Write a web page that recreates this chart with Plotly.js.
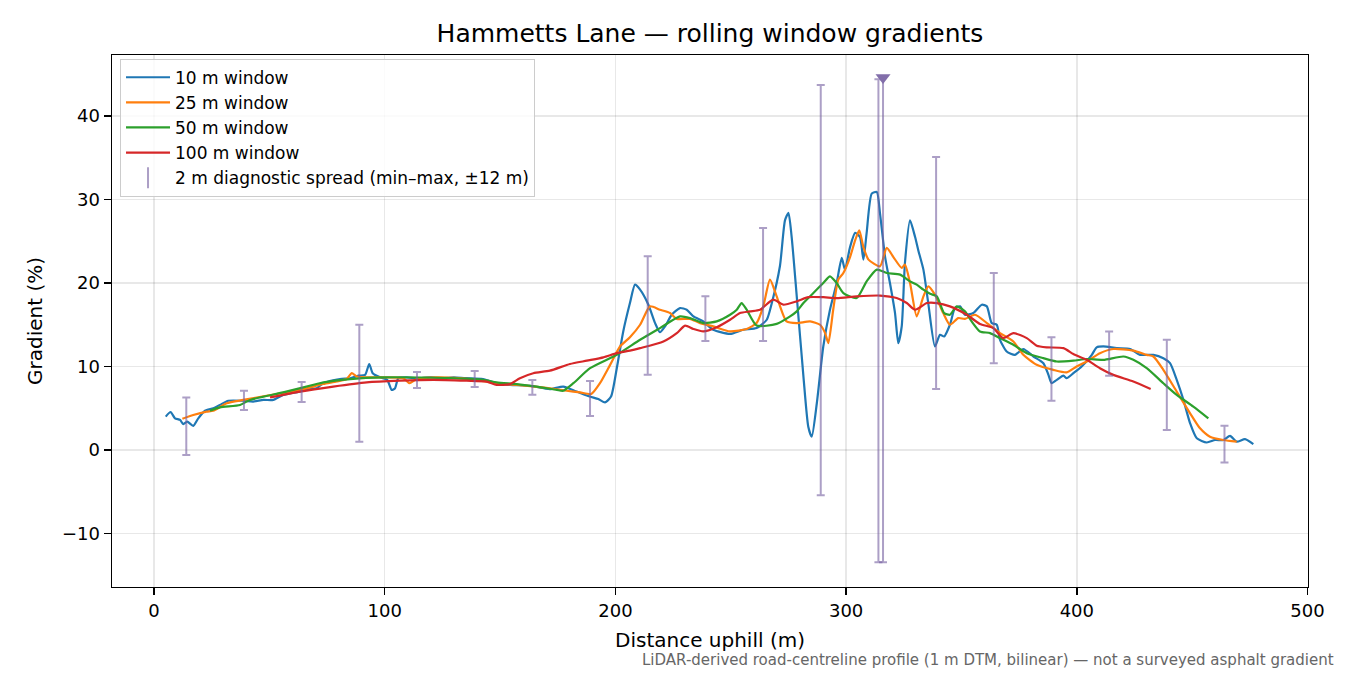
<!DOCTYPE html>
<html>
<head>
<meta charset="utf-8">
<script src="https://cdn.plot.ly/plotly-3.0.1.min.js"></script>
<style>
  body { margin: 0; background: #fff; }
  #chart { width: 1350px; height: 675px; }
</style>
</head>
<body>
<div id="chart"></div>
<script>
// rolling window gradients (distance m, gradient %)
var w10x = [5.1,7.2,9.1,11.3,12.7,14.4,17.0,19.2,22.1,25.7,28.6,32.2,38.7,43.0,47.4,51.7,56,63,67,70.5,73.4,80.6,85,88.6,91.5,93.3,94.8,98,101.1,103,104.5,105.9,109.5,113.9,120,125,130,135,142.6,148.5,154.3,163,171.6,177.4,183.2,189,192.6,195.5,198.1,200.6,203.4,206.3,208.5,210.7,214.3,217.2,219.3,221.5,224.4,228,230.9,233.8,238.1,242.4,249.7,255.4,261.2,265.6,267.8,271.3,273.5,275,276.4,278.6,281.5,283.6,285.1,287.3,290.1,293,295.9,298.1,299.5,301.7,303.9,306,307.5,308.9,311.1,313.3,314.7,316.9,319,321.2,322.6,324.1,325.5,327.7,329.9,331.3,333.5,335.6,338.5,340.7,342.5,345,347.2,349.4,351.5,355.1,358.8,361,363.1,365.3,366.7,369.6,373.2,376.8,381.2,385.5,387.7,389.1,391.3,394.2,395.6,398.5,402.1,406.5,408.6,411.5,417.3,423.1,427.4,433.2,437.5,440.4,443.3,446.2,449.1,452,456.3,459.9,463.5,466.4,469.3,472.9,476.5];
var w10y = [4.0,4.55,3.8,3.6,3.1,3.4,2.9,3.8,4.7,5.0,5.4,5.9,5.9,5.8,6.0,6.0,6.6,7.0,7.3,7.4,8.0,8.5,8.6,8.9,9.0,10.3,9.2,8.7,8.4,7.2,7.4,8.6,8.7,8.6,8.7,8.6,8.7,8.6,8.5,8.0,7.8,7.7,7.3,7.6,7.0,6.4,6.1,5.7,6.4,9.8,14.2,17.6,19.8,19.2,17.4,15.2,14.1,14.8,16.2,17.0,16.8,16.0,15.4,14.4,13.9,14.4,14.6,15.6,17.6,22.0,27.5,28.4,25.5,18.4,8.8,2.8,1.6,5.6,12.4,16.8,20.0,23.0,21.6,24.3,26.0,25.5,22.8,26.0,30.7,30.9,28.3,23.1,20.0,16.4,12.8,14.8,22.4,27.5,25.5,23.9,21.6,17.6,12.4,13.8,13.6,15.0,17.0,17.2,16.2,16.4,17.4,17.2,15.2,15.0,13.2,11.8,11.4,12.1,11.2,10.4,9.0,8.0,8.4,8.9,8.6,9.2,10.0,11.4,12.3,12.4,12.2,12.1,11.4,11.4,11.0,10.4,8.4,6.0,3.2,1.4,0.9,1.2,1.2,1.7,1.0,1.3,0.7];

var w25x = [12.3,17,22.8,25.7,31.5,38.7,48.8,63.3,73.4,79.2,83.5,85.7,87.9,92.2,99.4,108.1,110.7,113.9,122.5,137,148.5,157.2,171.6,178.9,184.7,189.5,193.3,197.7,202,206.3,210.7,215,219.3,223.7,226.6,232.3,236.7,242.4,249.7,256.9,261.2,264.1,267,269.9,274.2,278.6,284.4,288.7,290.9,292.3,294.4,296.6,298.8,301.7,303.9,305.7,307.5,309.7,314.7,317.6,320.5,324.1,325.5,327.7,330.6,333.5,335.6,338.5,342.1,345,348.6,351.5,355.9,361,366.7,372.5,376.8,382.6,389.8,395.6,399.9,404.3,410,415.8,424.5,430.3,433.2,437.5,443.3,449.1,453.4,457.7,463.5,469.3];
var w25y = [3.75,4.2,4.6,4.7,5.6,6.0,6.5,7.2,7.9,8.2,8.5,9.2,8.8,8.7,8.7,8.6,8.0,8.5,8.7,8.5,8.0,7.8,7.4,7.1,6.9,6.7,8.0,10.2,12.4,13.5,15.0,17.2,16.8,16.4,15.7,15.7,15.2,14.8,14.2,14.5,15.2,17.2,20.4,18.4,15.4,15.2,15.4,15.0,14.0,12.8,16.8,20.4,21.2,23.1,25.1,26.3,24.3,22.8,22.0,24.2,23.1,21.8,22.2,20.0,16.0,18.4,19.6,18.6,16.4,15.0,15.8,15.7,16.2,15.2,14.0,13.0,11.4,10.2,9.6,9.3,10.0,10.6,11.6,12.1,11.9,11.4,11.2,9.6,7.0,4.4,2.6,1.6,1.2,1.0];

var w50x = [24.3,28.6,37.3,41.6,56,70.5,73.4,85,99.4,128.3,142.7,148.5,157.2,165.9,174.6,177.4,181.8,189,200.6,210.7,219.3,228,232.3,238.1,243.9,249.7,252.6,254.7,256.9,261.2,269.9,275.7,278.6,281.5,285.8,290.1,293,295.9,298.8,304.6,308.9,313.3,317.6,323.4,327.7,330.6,333.5,336.4,339.3,342.5,345,347.9,351.5,354.4,358,362.4,366.7,372.5,378.3,385.5,391.3,398.5,404.3,411.5,420.2,424.5,430.3,437.5,443.3,450.5,457];
var w50y = [4.7,5.1,5.4,6.0,6.9,7.9,8.1,8.5,8.7,8.6,8.4,8.1,7.9,7.6,7.2,7.1,8.0,9.8,11.4,13.2,14.6,16.0,15.8,15.2,15.4,16.2,16.8,17.6,16.8,14.9,15.1,16.0,16.6,17.6,18.8,20.0,20.8,20.0,18.8,18.2,20.2,21.6,21.2,21.0,20.2,19.8,19.2,18.7,18.4,16.4,16.2,17.2,16.6,15.4,14.2,14.0,13.4,12.6,11.6,11.0,10.6,10.7,10.9,10.8,11.2,10.8,9.8,8.0,6.6,5.2,3.8];

var w100x = [50.3,63.3,77.7,92.2,106.6,121.1,135.5,144.2,148.5,154.3,158.6,164.4,171.6,180.3,187.6,194.8,200.6,206.3,210.7,220.8,226.6,230.2,233.8,238.1,243.9,249.7,254,258.3,262.7,268.4,272.8,278.6,283.6,290.1,295.9,304.6,314.7,321.9,326.3,329.9,335,339.3,345,352.3,358,363.8,368.1,372.5,378.3,382.6,387,394.2,398.5,404.3,410,415.8,424.5,432];
var w100y = [6.3,7.0,7.6,8.1,8.3,8.4,8.3,8.2,7.8,7.9,8.6,9.2,9.5,10.3,10.7,11.1,11.6,11.9,12.2,13.0,14.0,14.9,14.5,14.2,14.7,15.6,16.4,16.6,16.8,18.0,17.4,17.8,18.3,18.3,18.2,18.4,18.5,18.2,17.6,16.8,17.6,17.6,17.2,16.2,15.1,14.6,13.4,14.0,13.4,12.5,12.3,12.2,11.5,10.8,9.8,9.0,8.2,7.3];

// 2 m diagnostic spread, min and max within +-12 m
var spreadX = [14,39,64,89,114,139,164,189,214,239,264,289,314,339,364,389,414,439,464];
var spreadLo = [-0.6,4.8,5.75,1.0,7.43,7.54,6.63,4.07,9.0,13.05,13.05,-5.4,-13.45,7.3,10.4,5.9,8.9,2.4,-1.5];
var spreadHi = [6.3,7.1,8.14,15.0,9.34,9.46,8.38,8.26,23.2,18.4,26.6,43.7,44.4,35.1,21.2,13.5,14.2,13.2,2.9];

// spread that runs off the top of the axis
var offX = [316];
var offLo = [-13.45];
var offHi = [44.6];

var barColor = 'rgba(117,95,160,0.6)';

function plus(hi, lo){
    return hi.map(function(v, i){ return v - lo[i]; });
}

var smooth = {shape: 'spline', smoothing: 0.6, width: 2.2};

var data = [
    {x: w10x, y: w10y, mode: 'lines', name: '10 m window', line: Object.assign({color: '#1f77b4'}, smooth)},
    {x: w25x, y: w25y, mode: 'lines', name: '25 m window', line: Object.assign({color: '#ff7f0e'}, smooth)},
    {x: w50x, y: w50y, mode: 'lines', name: '50 m window', line: Object.assign({color: '#2ca02c'}, smooth)},
    {x: w100x, y: w100y, mode: 'lines', name: '100 m window', line: Object.assign({color: '#d62728'}, smooth)},
    {x: [null], y: [null], mode: 'markers', name: '2 m diagnostic spread (min\u2013max, \u00b112 m)',
        marker: {symbol: 'line-ns-open', size: 15, color: barColor, line: {color: barColor, width: 2}}},
    {x: spreadX, y: spreadLo, mode: 'markers', showlegend: false, hoverinfo: 'skip',
        marker: {size: 0.1, color: 'rgba(0,0,0,0)'},
        error_y: {type: 'data', symmetric: false, array: plus(spreadHi, spreadLo), arrayminus: spreadLo.map(function(){return 0;}),
            color: barColor, thickness: 2, width: 4}},
    {x: offX, y: offLo, mode: 'markers', showlegend: false, hoverinfo: 'skip',
        marker: {size: 0.1, color: 'rgba(0,0,0,0)'},
        error_y: {type: 'data', symmetric: false, array: plus(offHi, offLo), arrayminus: [0],
            color: barColor, thickness: 2, width: 4}},
    {x: offX, y: offHi, mode: 'markers', showlegend: false, hoverinfo: 'skip',
        marker: {symbol: 'triangle-down', size: 13, color: '#826eaa'}}
];

var axisStyle = {
    showline: true, mirror: true, linecolor: '#000', linewidth: 1.4,
    ticks: 'outside', ticklen: 7, tickwidth: 1.4, tickcolor: '#000',
    showgrid: true, gridcolor: 'rgba(0,0,0,0.09)', gridwidth: 1.4,
    zeroline: false,
    tickfont: {size: 18, color: '#000'}
};

var layout = {
    width: 1350, height: 675,
    margin: {l: 112, r: 42, t: 55, b: 88},
    paper_bgcolor: '#fff', plot_bgcolor: '#fff',
    font: {family: 'DejaVu Sans, sans-serif', color: '#000'},
    title: {text: 'Hammetts Lane \u2014 rolling window gradients', font: {size: 25},
        x: 0.5, xref: 'paper', xanchor: 'center', y: 0.951, yref: 'container', yanchor: 'middle'},
    xaxis: Object.assign({}, axisStyle, {
        range: [-18.2, 500.2], tickvals: [0, 100, 200, 300, 400, 500],
        title: {text: 'Distance uphill (m)', font: {size: 20}, standoff: 13}
    }),
    yaxis: Object.assign({}, axisStyle, {
        range: [-16.4, 47.3], tickvals: [-10, 0, 10, 20, 30, 40],
        title: {text: 'Gradient (%)', font: {size: 20}, standoff: 14}
    }),
    legend: {
        x: 0.0067, y: 0.993, xanchor: 'left', yanchor: 'top',
        bgcolor: 'rgba(255,255,255,0.8)', bordercolor: '#cccccc', borderwidth: 1,
        font: {size: 17}, itemwidth: 44, tracegroupgap: 0
    },
    annotations: [{
        text: 'LiDAR-derived road-centreline profile (1 m DTM, bilinear) \u2014 not a surveyed asphalt gradient',
        xref: 'paper', yref: 'paper', x: 1.0234, y: -0.137, xanchor: 'right', yanchor: 'middle',
        showarrow: false, font: {size: 15, color: '#666'}
    }]
};

Plotly.newPlot('chart', data, layout, {displayModeBar: false, staticPlot: true});
</script>
</body>
</html>
